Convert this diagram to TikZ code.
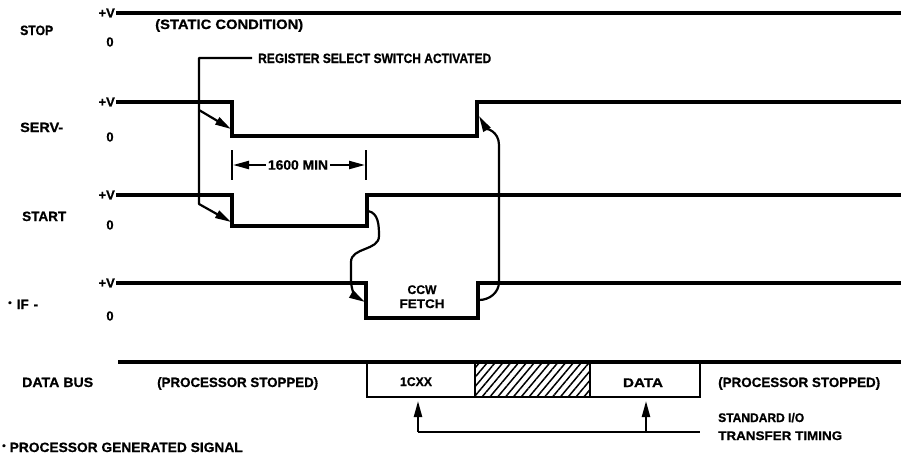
\documentclass[tikz,border=0pt]{standalone}
\usepackage{fontspec}
\setmainfont{Liberation Sans}[BoldFeatures={FakeBold=0.8}]
\usepackage{graphicx}
\usetikzlibrary{arrows.meta,patterns.meta}
\newsavebox\fwbox
\newdimen\fwd
\newcommand\fw[2]{\sbox\fwbox{#2}\fwd=\wd\fwbox\pgfmathsetmacro\fwr{#1/\fwd}\scalebox{\fwr}[1]{\usebox\fwbox}}
\newcommand\mk{\raisebox{3pt}{\fontsize{10}{10}\selectfont\textbullet}}
\begin{document}
\begin{tikzpicture}[x=1pt,y=-1pt,
  lbl/.style={inner sep=0pt, anchor=base west, font=\fontsize{13.5}{14}\selectfont\bfseries},
  clbl/.style={inner sep=0pt, anchor=base, font=\fontsize{12.5}{13}\selectfont\bfseries},
  lvl/.style={inner sep=0pt, font=\fontsize{13}{14}\selectfont\bfseries},
  sig/.style={line width=3.2pt, line join=miter, line cap=rect},
  boxl/.style={line width=2.8pt, line join=miter},
  conn/.style={line width=2.2pt, line join=round},
  arr/.style={conn, -{Triangle[length=16pt,width=8pt]}},
  hatch/.style={pattern={Lines[angle=50,distance=6pt,line width=1.5pt]}}]
\useasboundingbox (0,0) rectangle (901,458);

% ---- row labels ----
\node[lbl] (stop) at (20,35) {\fw{33}{STOP}};
\node[lbl] (serv) at (20,132) {\fw{43}{SERV-}};
\node[lbl] (start) at (22,221) {\fw{44}{START}};
\node[lbl] (ifl) at (8,309) {\mk\hspace{5pt}\fw{12}{IF}\hspace{5pt}-};
\node[lbl] (dbus) at (22,387) {\fw{71}{DATA BUS}};

% ---- level marks ----
\foreach \n/\yv/\yz in {a/13/42, b/102/137, c/195/225, d/283/316}{
  \node[lvl, anchor=east] (pv\n) at (115,\yv) {+V};
  \node[lvl] (zr\n) at (110,\yz) {0};
}

% ---- waveforms ----
\draw[sig] (118,13) -- (901,13);
\draw[sig] (118,102) -- (232,102) -- (232,136) -- (477,136) -- (477,102) -- (901,102);
\draw[sig] (118,195) -- (232,195) -- (232,226) -- (367,226) -- (367,195) -- (901,195);
\draw[sig] (118,283) -- (366,283) -- (366,318) -- (478,318) -- (478,283) -- (901,283);

\node[lbl] (static) at (155,29) {\fw{148}{(STATIC CONDITION)}};
\node[lbl] (reg) at (258,63) {\fw{233}{REGISTER SELECT SWITCH ACTIVATED}};

% ---- register select connector ----
\coordinate (regL) at (252,58);
\coordinate (regC) at (199,58);
\coordinate (regB) at (199,204);
\coordinate (servIn) at (199,110);
\coordinate (servT) at (231,129);
\coordinate (startT) at (231,222);
\draw[arr] (regL) -- (regC) -- (regB) -- (startT);
\draw[arr] (servIn) -- (servT);

% ---- 1600 MIN ----
\draw[conn] (232,150) -- (232,180);
\draw[conn] (366,150) -- (366,180);
\node[lbl, anchor=center] (dim) at (298,165) {\fw{60}{1600 MIN}};
\coordinate (dimL) at (233,165);
\coordinate (dimR) at (365,165);
\draw[arr] ([xshift=-2pt]dim.west) -- (dimL);
\draw[arr] ([xshift=2pt]dim.east) -- (dimR);

% ---- START rise -> IF fall ----
\coordinate (stR) at (368,211);
\coordinate (ifF) at (365,302);
\draw[arr] (stR) to[out=-10,in=90] (379,236) to[out=-90,in=90] (351,262) -- (351,280) to[out=-90,in=150] (ifF);

% ---- IF rise -> SERV rise ----
\coordinate (ifR) at (479,300);
\coordinate (svR) at (479,116);
\draw[arr] (ifR) to[out=0,in=-90] (499,282) -- (499,145) to[out=90,in=-60] (svR);

\node[clbl] (ccw) at (422,294) {\fw{29}{CCW}};
\node[clbl] (fetch) at (422,308) {\fw{45}{FETCH}};

% ---- data bus ----
\fill[hatch] (475,362) rectangle (590,397);
\draw[sig] (120,362) -- (901,362);
\draw[boxl] (367,362) -- (367,397) -- (700,397) -- (700,362);
\draw[boxl] (475,362) -- (475,397);
\draw[boxl] (590,362) -- (590,397);

\node[lbl] (ps1) at (157,387) {\fw{161}{(PROCESSOR STOPPED)}};
\node[clbl] (icxx) at (416,386) {\fw{32}{1CXX}};
\node[clbl] (data) at (643,387) {\fw{40}{DATA}};
\node[lbl] (ps2) at (718,387) {\fw{162}{(PROCESSOR STOPPED)}};

% ---- transfer timing ----
\coordinate (a1) at (418,432);
\coordinate (a1t) at (418,401);
\coordinate (a2) at (646,432);
\coordinate (a2t) at (646,401);
\coordinate (tEnd) at (700,432);
\draw[conn] (a1) -- (tEnd);
\draw[arr] (a1) -- (a1t);
\draw[arr] (a2) -- (a2t);
\node[lbl, font=\fontsize{12.5}{13}\selectfont\bfseries] (std) at (718,422) {\fw{86}{STANDARD I/O}};
\node[lbl, font=\fontsize{12.5}{13}\selectfont\bfseries] (tt) at (718,440) {\fw{124}{TRANSFER TIMING}};

\node[lbl] (foot) at (2,452) {\mk\hspace{4pt}\fw{233}{PROCESSOR GENERATED SIGNAL}};
\end{tikzpicture}
\end{document}
